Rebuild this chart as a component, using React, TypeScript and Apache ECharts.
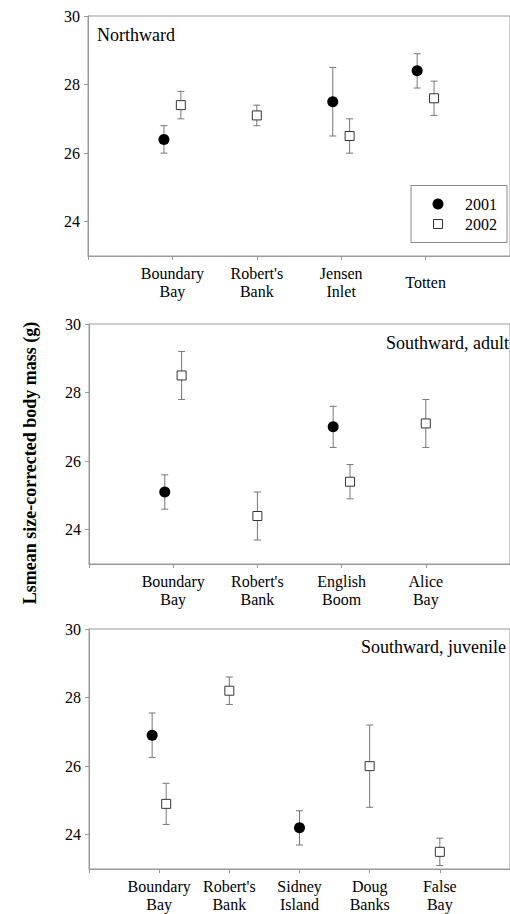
import React, { useEffect, useRef } from 'react';
import * as echarts from 'echarts';

// ---------- data ----------
const northCategories = ['Boundary\nBay', "Robert's\nBank", 'Jensen\nInlet', 'Totten'];
const north2001 = [26.4, null, 27.5, 28.4];
const north2001Low = [26.0, null, 26.5, 27.9];
const north2001High = [26.8, null, 28.5, 28.9];
const north2002 = [27.4, 27.1, 26.5, 27.6];
const north2002Low = [27.0, 26.8, 26.0, 27.1];
const north2002High = [27.8, 27.4, 27.0, 28.1];

const adultCategories = ['Boundary\nBay', "Robert's\nBank", 'English\nBoom', 'Alice\nBay'];
const adult2001 = [25.1, null, 27.0, null];
const adult2001Low = [24.6, null, 26.4, null];
const adult2001High = [25.6, null, 27.6, null];
const adult2002 = [28.5, 24.4, 25.4, 27.1];
const adult2002Low = [27.8, 23.7, 24.9, 26.4];
const adult2002High = [29.2, 25.1, 25.9, 27.8];

const juvenileCategories = ['Boundary\nBay', "Robert's\nBank", 'Sidney\nIsland', 'Doug\nBanks', 'False\nBay'];
const juvenile2001 = [26.9, null, 24.2, null, null];
const juvenile2001Low = [26.25, null, 23.7, null, null];
const juvenile2001High = [27.55, null, 24.7, null, null];
const juvenile2002 = [24.9, 28.2, null, 26.0, 23.5];
const juvenile2002Low = [24.3, 27.8, null, 24.8, 23.1];
const juvenile2002High = [25.5, 28.6, null, 27.2, 23.9];

const yTicks = [24, 26, 28, 30];
const yMin = 23;
const yMax = 30;
const panelTitles = ['Northward', 'Southward, adult', 'Southward, juvenile'];
const legendNames = ['2001', '2002'];
const yAxisTitle = 'Lsmean size-corrected body mass (g)';

// ---------- layout / style ----------
const FONT = 'Liberation Serif, serif';
const AXIS_COLOR = '#999999';
const BAR_COLOR = '#777777';

type Panel = {
  cats: string[];
  a: (number | null)[]; aLo: (number | null)[]; aHi: (number | null)[];
  b: (number | null)[]; bLo: (number | null)[]; bHi: (number | null)[];
};

const panels: Panel[] = [
  { cats: northCategories, a: north2001, aLo: north2001Low, aHi: north2001High, b: north2002, bLo: north2002Low, bHi: north2002High },
  { cats: adultCategories, a: adult2001, aLo: adult2001Low, aHi: adult2001High, b: adult2002, bLo: adult2002Low, bHi: adult2002High },
  { cats: juvenileCategories, a: juvenile2001, aLo: juvenile2001Low, aHi: juvenile2001High, b: juvenile2002, bLo: juvenile2002Low, bHi: juvenile2002High },
];

const gridBoxes = [
  { left: 88, top: 16, width: 430, height: 240 },
  { left: 89, top: 324, width: 431, height: 240 },
  { left: 89, top: 629, width: 431, height: 240 },
];

const titlePos = [
  { x: 97, y: 35 },
  { x: 386, y: 343 },
  { x: 361, y: 647 },
];

const DODGE = 0.1;

function positions(p: Panel, which: 'a' | 'b') {
  return p.cats.map((_, i) => {
    const both = p.a[i] != null && p.b[i] != null;
    const base = i + 1;
    if (!both) return base;
    return which === 'a' ? base - DODGE : base + DODGE;
  });
}

function pointData(p: Panel, which: 'a' | 'b') {
  const xs = positions(p, which);
  const vals = which === 'a' ? p.a : p.b;
  const out: number[][] = [];
  vals.forEach((v, i) => { if (v != null) out.push([xs[i], v]); });
  return out;
}

function barData(p: Panel, which: 'a' | 'b') {
  const xs = positions(p, which);
  const lo = which === 'a' ? p.aLo : p.bLo;
  const hi = which === 'a' ? p.aHi : p.bHi;
  const out: number[][] = [];
  lo.forEach((l, i) => { const h = hi[i]; if (l != null && h != null) out.push([xs[i], l, h]); });
  return out;
}

const errorRender = (params: any, api: any) => {
  const x = api.value(0);
  const lo = api.coord([x, api.value(1)]);
  const hi = api.coord([x, api.value(2)]);
  const cap = 3.5;
  const style = { stroke: BAR_COLOR, lineWidth: 1 };
  return {
    type: 'group',
    children: [
      { type: 'line', shape: { x1: lo[0], y1: lo[1], x2: hi[0], y2: hi[1] }, style },
      { type: 'line', shape: { x1: lo[0] - cap, y1: lo[1], x2: lo[0] + cap, y2: lo[1] }, style },
      { type: 'line', shape: { x1: hi[0] - cap, y1: hi[1], x2: hi[0] + cap, y2: hi[1] }, style },
    ],
  };
};

function buildOption() {
  const grid = gridBoxes.map((g) => ({ ...g, show: true, borderColor: AXIS_COLOR, borderWidth: 1, backgroundColor: 'transparent' }));
  const xAxis = panels.map((p, i) => {
    const n = p.cats.length;
    const labelVals = p.cats.map((_, k) => k + 1);
    return {
      type: 'value', gridIndex: i, min: 0, max: n + 1,
      axisLine: { show: true, lineStyle: { color: AXIS_COLOR, width: 1 } },
      axisTick: { show: true, length: 4, inside: false, customValues: [0, ...labelVals], lineStyle: { color: AXIS_COLOR } },
      splitLine: { show: false },
      axisLabel: {
        customValues: labelVals,
        formatter: (v: number) => p.cats[Math.round(v) - 1] ?? '',
        margin: 26, verticalAlign: 'middle', lineHeight: 18,
        fontSize: 16, fontFamily: FONT, color: '#000',
      },
    };
  });
  const yAxis = panels.map((_, i) => ({
    type: 'value', gridIndex: i, min: yMin, max: yMax,
    axisLine: { show: true, lineStyle: { color: AXIS_COLOR, width: 1 } },
    axisTick: { show: true, length: 4, inside: false, customValues: yTicks, lineStyle: { color: AXIS_COLOR } },
    splitLine: { show: false },
    axisLabel: { customValues: yTicks, margin: 8, fontSize: 16, fontFamily: FONT, color: '#000' },
  }));

  const series: any[] = [];
  panels.forEach((p, i) => {
    (['a', 'b'] as const).forEach((w) => {
      series.push({
        type: 'custom', xAxisIndex: i, yAxisIndex: i, name: w === 'a' ? legendNames[0] + ' SE' : legendNames[1] + ' SE',
        renderItem: errorRender, data: barData(p, w), encode: { x: 0, y: [1, 2] }, z: 2, silent: true,
      });
    });
    series.push({
      type: 'scatter', xAxisIndex: i, yAxisIndex: i, name: legendNames[0],
      data: pointData(p, 'a'), symbol: 'circle', symbolSize: 11,
      itemStyle: { color: '#000', borderColor: '#000', borderWidth: 0, opacity: 1 }, z: 3,
    });
    series.push({
      type: 'scatter', xAxisIndex: i, yAxisIndex: i, name: legendNames[1],
      data: pointData(p, 'b'), symbol: 'rect', symbolSize: 9,
      itemStyle: { color: '#fff', borderColor: '#333', borderWidth: 1, opacity: 1 }, z: 3,
    });
  });

  const graphic: any[] = [];
  panelTitles.forEach((t, i) => {
    graphic.push({
      type: 'text', x: titlePos[i].x, y: titlePos[i].y, z: 10,
      style: { text: t, fontSize: 18, fontFamily: FONT, fill: '#000', textAlign: 'left', textVerticalAlign: 'middle' },
    });
  });
  graphic.push({
    type: 'text', x: 30, y: 463, rotation: Math.PI / 2, z: 10,
    style: { text: yAxisTitle, fontSize: 18, fontWeight: 'bold', fontFamily: FONT, fill: '#000', textAlign: 'center', textVerticalAlign: 'middle' },
  });
  // legend box
  graphic.push({
    type: 'group', z: 10,
    children: [
      { type: 'rect', shape: { x: 411, y: 185.5, width: 96, height: 57 }, style: { fill: '#fff', stroke: '#888', lineWidth: 1 } },
      { type: 'circle', shape: { cx: 438, cy: 204, r: 5.5 }, style: { fill: '#000' } },
      { type: 'rect', shape: { x: 433.5, y: 219.5, width: 9, height: 9 }, style: { fill: '#fff', stroke: '#333', lineWidth: 1 } },
      { type: 'text', x: 465, y: 204, style: { text: legendNames[0], fontSize: 16, fontFamily: FONT, fill: '#000', textAlign: 'left', textVerticalAlign: 'middle' } },
      { type: 'text', x: 465, y: 224, style: { text: legendNames[1], fontSize: 16, fontFamily: FONT, fill: '#000', textAlign: 'left', textVerticalAlign: 'middle' } },
    ],
  });

  return {
    animation: false,
    backgroundColor: '#fff',
    textStyle: { fontFamily: FONT },
    grid, xAxis, yAxis, series, graphic,
  };
}

export default function App() {
  const ref = useRef<HTMLDivElement>(null);
  useEffect(() => {
    if (!ref.current) return;
    const chart = echarts.init(ref.current, null, { renderer: 'svg' });
    chart.setOption(buildOption() as any);
    return () => chart.dispose();
  }, []);
  return <div ref={ref} style={{ position: 'fixed', left: 0, top: 0, width: 510, height: 914 }} />;
}
